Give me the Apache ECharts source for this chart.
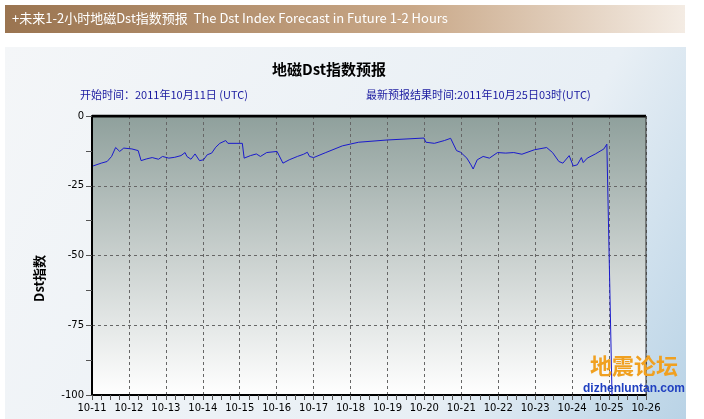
<!DOCTYPE html>
<html><head><meta charset="utf-8">
<script src="https://cdn.jsdelivr.net/npm/echarts@6/dist/echarts.min.js"></script>
<style>html,body{margin:0;padding:0;background:#fff}#c{width:704px;height:419px}</style>
</head><body><div id="c"></div>
<script>
const dayLabels = ['10-11','10-12','10-13','10-14','10-15','10-16','10-17','10-18','10-19','10-20','10-21','10-22','10-23','10-24','10-25','10-26'];
const yTicks = [0,-25,-50,-75,-100];
const dayOffsets = [0.03,0.25,0.41,0.53,0.64,0.75,0.86,1.08,1.25,1.33,1.47,1.63,1.80,1.91,2.08,2.24,2.41,2.52,2.57,2.68,2.79,2.91,3.02,3.12,3.24,3.35,3.46,3.62,3.68,3.90,4.07,4.12,4.29,4.45,4.56,4.73,5.01,5.06,5.17,5.34,5.56,5.73,5.83,5.89,6.00,6.33,6.78,7.22,7.99,8.99,9.04,9.27,9.54,9.71,9.87,9.98,10.15,10.26,10.32,10.43,10.59,10.76,10.98,11.20,11.42,11.64,11.98,12.31,12.47,12.64,12.75,12.92,13.03,13.14,13.25,13.30,13.41,13.63,13.86,13.94,14.08];
const dstValues = [-17.9,-16.9,-16.3,-14.5,-11.3,-12.7,-11.5,-11.8,-12.4,-16.0,-15.4,-14.9,-15.5,-14.5,-15.1,-14.8,-14.2,-13.1,-14.5,-15.5,-13.6,-16.0,-15.7,-13.9,-13.3,-11.2,-9.8,-8.8,-9.8,-9.8,-9.8,-15.1,-14.2,-13.6,-14.5,-13.1,-12.7,-12.1,-16.9,-15.7,-14.5,-13.7,-13.0,-14.5,-14.9,-13.1,-10.7,-9.4,-8.6,-7.9,-9.4,-9.8,-8.8,-8.0,-12.4,-13.0,-15.1,-17.5,-19.0,-15.7,-14.5,-15.1,-13.1,-13.3,-13.1,-13.7,-12.1,-11.3,-13.1,-16.3,-16.9,-14.2,-17.9,-17.5,-14.9,-16.7,-15.1,-13.6,-11.8,-10.1,-100];
const chart = echarts.init(document.getElementById('c'));
chart.setOption({
  animation:false,
  graphic:[
    {type:'rect',shape:{x:5,y:5,width:680,height:28},style:{fill:new echarts.graphic.LinearGradient(0,0,1,0,[{offset:0,color:'#9a7450'},{offset:0.6,color:'#c9a888'},{offset:1,color:'#f4ece4'}])},z:-10},
    {type:'text',left:12,top:12,style:{text:'+未来1-2小时地磁Dst指数预报  The Dst Index Forecast in Future 1-2 Hours',fill:'#fff',font:'13px "Noto Sans CJK SC", sans-serif'}},
    {type:'rect',shape:{x:5,y:47,width:681,height:372},style:{fill:new echarts.graphic.LinearGradient(0,0,1,1,[{offset:0,color:'#f4f6f8'},{offset:0.7,color:'#e8eff5'},{offset:1,color:'#b9d3e6'}])},z:-10},
    {type:'text',left:'center',top:62,style:{text:'地磁Dst指数预报',fill:'#000',font:'bold 15px "Noto Sans CJK SC", sans-serif'},left:272},
    {type:'text',left:80,top:89,style:{text:'开始时间：2011年10月11日 (UTC)',fill:'#1a1aa0',font:'11px "Noto Sans CJK SC", sans-serif'}},
    {type:'text',left:366,top:89,style:{text:'最新预报结果时间:2011年10月25日03时(UTC)',fill:'#1a1aa0',font:'11px "Noto Sans CJK SC", sans-serif'}},
    {type:'text',left:33,top:255,rotation:Math.PI/2,style:{text:'Dst指数',fill:'#000',font:'bold 13px "Noto Sans CJK SC", sans-serif',align:'center',verticalAlign:'middle'},x:33,y:255},
    {type:'text',left:590,top:355,style:{text:'地震论坛',fill:'#f0a020',font:'bold 22px "Noto Sans CJK SC", sans-serif'},z:10},
    {type:'text',left:583,top:383,style:{text:'dizhenluntan.com',fill:'#2040c0',font:'bold 12px sans-serif'},z:10}
  ],
  grid:{left:92,right:58,top:116,bottom:24,show:true,borderWidth:0,
    backgroundColor:new echarts.graphic.LinearGradient(0,0,0,1,[{offset:0,color:'#8fa09c'},{offset:0.5,color:'#c9d0ce'},{offset:1,color:'#ffffff'}])},
  xAxis:{type:'value',min:0,max:15,interval:1,
    axisLine:{show:true,onZero:false,lineStyle:{color:'#000',width:2}},
    axisTick:{show:true,length:5,lineStyle:{color:'#555'}},
    minorTick:{show:true,splitNumber:4,length:5,lineStyle:{color:'#555'}},
    axisLabel:{color:'#000',fontSize:10,fontFamily:'DejaVu Sans',formatter:v=>dayLabels[Math.round(v)]},
    splitLine:{show:true,lineStyle:{color:'#666',type:[3,3],width:1}}},
  yAxis:{type:'value',min:-100,max:0,interval:25,
    axisLine:{show:true,lineStyle:{color:'#000',width:2}},
    axisTick:{show:true,length:6,lineStyle:{color:'#555'}},
    minorTick:{show:true,splitNumber:2,length:6,lineStyle:{color:'#555'}},
    axisLabel:{color:'#000',fontSize:10,fontFamily:'DejaVu Sans',formatter:v=>yTicks.includes(v)?String(v):''},
    splitLine:{show:true,lineStyle:{color:'#666',type:[3,3],width:1}}},
  series:[
    {type:'line',data:dayOffsets.map((d,i)=>[d,dstValues[i]]),symbol:'none',lineStyle:{color:'#1a1acc',width:1},clip:true},
    {type:'line',data:[[0,0],[15,0]],symbol:'none',lineStyle:{color:'#000',width:3},silent:true},
    {type:'line',data:[[15,0],[15,-100]],symbol:'none',lineStyle:{color:'#333',width:1},silent:true}
  ]
});
</script></body></html>
